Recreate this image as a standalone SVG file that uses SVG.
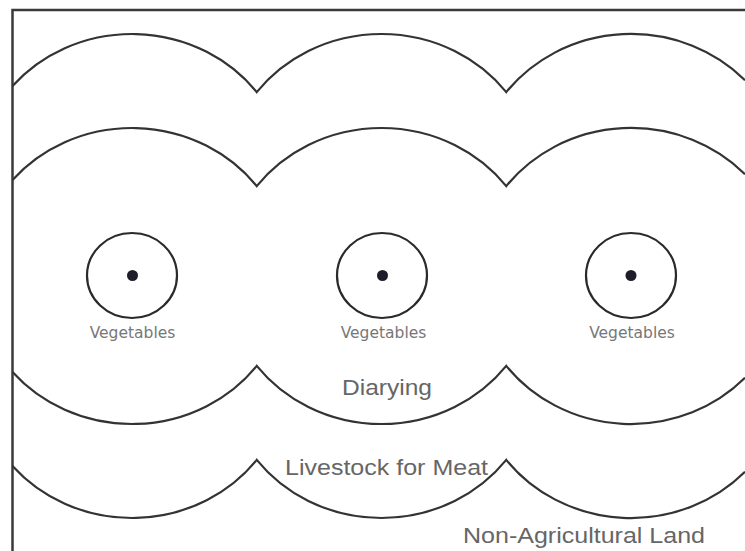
<svg xmlns="http://www.w3.org/2000/svg" width="745" height="551" viewBox="0 0 745 551">
  <style>
    .frame { fill: none; stroke: #3a3a3a; stroke-width: 2.5; }
    .zone { fill: none; stroke: #333; stroke-width: 2.2; stroke-linejoin: miter; }
    .ring { fill: none; stroke: #2a2a2a; stroke-width: 2.2; }
    .dot { fill: #1e1e2a; }
    .veg { font-family: "DejaVu Sans", "Liberation Sans", sans-serif; font-size: 15.5px; fill: #777; text-anchor: middle; }
    .zlabel { font-family: "Liberation Sans", Arial, sans-serif; font-size: 22.5px; fill: #666; }
  </style>
  <rect x="0" y="0" width="745" height="551" fill="#ffffff"/>

  <g id="frame">
    <path class="frame" d="M12.5,551 V10 H745"/>
  </g>

  <g id="zone-boundaries">
    <!-- outer top (livestock / non-agricultural) -->
    <path class="zone" d="M12.5,86 A157,148 0 0 1 256.75,92.15 A157,148 0 0 1 506.25,92.15 A157,148 0 0 1 745,80.2"/>
    <!-- middle top (diarying / livestock) -->
    <path class="zone" d="M12.5,180 A157,148 0 0 1 256.75,186.15 A157,148 0 0 1 506.25,186.15 A157,148 0 0 1 745,174.2"/>
    <!-- middle bottom -->
    <path class="zone" d="M12.5,372 A157,148 0 0 0 256.75,365.85 A157,148 0 0 0 506.25,365.85 A157,148 0 0 0 745,377.8"/>
    <!-- outer bottom -->
    <path class="zone" d="M12.5,466 A157,148 0 0 0 256.75,459.85 A157,148 0 0 0 506.25,459.85 A157,148 0 0 0 745,471.8"/>
  </g>

  <g id="market-1">
    <ellipse class="ring" cx="132" cy="275.5" rx="45" ry="42.5"/>
    <circle class="dot" cx="132.5" cy="275.5" r="5.5"/>
    <text class="veg" x="132.5" y="338">Vegetables</text>
  </g>
  <g id="market-2">
    <ellipse class="ring" cx="382" cy="275.5" rx="45" ry="42.5"/>
    <circle class="dot" cx="382.5" cy="275.5" r="5.5"/>
    <text class="veg" x="383.5" y="338">Vegetables</text>
  </g>
  <g id="market-3">
    <ellipse class="ring" cx="631" cy="275.5" rx="45" ry="42.5"/>
    <circle class="dot" cx="631" cy="275.5" r="5.5"/>
    <text class="veg" x="632" y="338">Vegetables</text>
  </g>

  <g id="labels">
    <text class="zlabel" x="342" y="395" textLength="90" lengthAdjust="spacingAndGlyphs">Diarying</text>
    <text class="zlabel" x="285" y="475" textLength="203" lengthAdjust="spacingAndGlyphs">Livestock for Meat</text>
    <text class="zlabel" x="463" y="543" textLength="242" lengthAdjust="spacingAndGlyphs">Non-Agricultural Land</text>
  </g>
</svg>
